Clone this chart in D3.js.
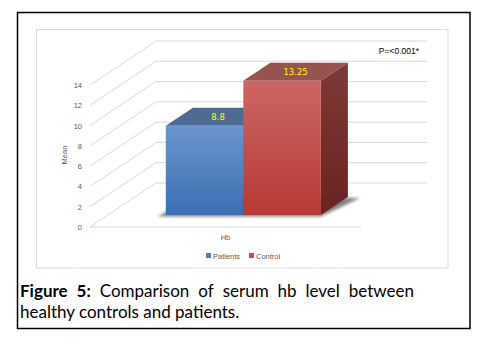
<!DOCTYPE html>
<html><head><meta charset="utf-8">
<script src="https://cdn.jsdelivr.net/npm/d3@7"></script>
<style>body{margin:0;background:#fff}svg{display:block}</style>
</head><body>
<script>
const categories = ["Hb"];
const seriesNames = ["Patients", "Control"];
const seriesValues = [8.8, 13.25];
const valueLabels = ["8.8", "13.25"];
const yTicks = [0, 2, 4, 6, 8, 10, 12, 14];
const pValueText = "P=<0.001*";
const yTitle = "Mean";
const captionBold = "Figure 5:";
const captionLine1 = ["Comparison", "of", "serum", "hb", "level", "between"];
const captionLine2 = "healthy controls and patients.";

const W = 486, H = 345;
const svg = d3.select("body").append("svg").attr("width", W).attr("height", H);
const defs = svg.append("defs");

// outer & inner frames
svg.append("rect").attr("x", 17.5).attr("y", 12.5).attr("width", 452.5).attr("height", 316)
  .attr("fill", "none").attr("stroke", "#000").attr("stroke-width", 1.5);
svg.append("rect").attr("x", 36.5).attr("y", 29.5).attr("width", 411.5).attr("height", 238.5)
  .attr("fill", "#fff").attr("stroke", "#d9d9d9").attr("stroke-width", 1);

// 3D projection
const DX = 66, DY = -44;               // full depth offset
const fFront = 0.27, fBack = 0.68;     // bar depth fractions
const y = d3.scaleLinear().domain([0, 14]).range([227, 85]);
const x0 = d3.scaleBand().domain(categories).range([90, 361]).paddingInner(0).paddingOuter(0.374);
const x1 = d3.scaleBand().domain(seriesNames).range([0, x0.bandwidth()]).padding(0);
const P = (xf, v, f) => [xf + DX * f, y(v) + DY * f];

const grid = "#d9d9d9";
const g = svg.append("g");
// back wall gridlines
yTicks.forEach(t => {
  const a = P(90, t, 1), b = P(361, t, 1);
  g.append("line").attr("x1", a[0]).attr("y1", a[1]).attr("x2", b[0]).attr("y2", b[1])
    .attr("stroke", grid).attr("stroke-width", 1);
  const c = P(90, t, 0);
  g.append("line").attr("x1", c[0]).attr("y1", c[1]).attr("x2", a[0]).attr("y2", a[1])
    .attr("stroke", grid).attr("stroke-width", 1);
});
// floor front line
g.append("line").attr("x1", 90).attr("y1", y(0)).attr("x2", 361).attr("y2", y(0))
  .attr("stroke", grid).attr("stroke-width", 1);

// y tick labels
g.selectAll("text.yt").data(yTicks).join("text")
  .attr("x", 82).attr("y", d => y(d) + 3)
  .attr("text-anchor", "end").attr("font-family", "Liberation Sans, Arial, sans-serif")
  .attr("font-size", 7.5).attr("fill", "#595959").text(d => d);
svg.append("text").attr("transform", `translate(67,155) rotate(-90)`)
  .attr("text-anchor", "middle").attr("font-family", "Liberation Sans, Arial, sans-serif")
  .attr("font-size", 7.5).attr("fill", "#595959").text(yTitle);
svg.append("text").attr("x", x0("Hb") + x0.bandwidth() / 2).attr("y", 240)
  .attr("text-anchor", "middle").attr("font-family", "Liberation Sans, Arial, sans-serif")
  .attr("font-size", 7.5).attr("fill", "#595959").text(categories[0]);

// gradients
const palettes = [
  { front: ["#6c95ce", "#3b6eb3"], top: "#506b92", side: ["#2c4f82", "#254474"] },
  { front: ["#cb6764", "#b63935"], top: "#975350", side: ["#7d3a38", "#6c2222"] }
];
palettes.forEach((p, i) => {
  const lg = defs.append("linearGradient").attr("id", "fg" + i).attr("x1", 0).attr("y1", 0).attr("x2", 0).attr("y2", 1);
  lg.append("stop").attr("offset", 0).attr("stop-color", p.front[0]);
  lg.append("stop").attr("offset", 1).attr("stop-color", p.front[1]);
  const sg = defs.append("linearGradient").attr("id", "sg" + i).attr("x1", 0).attr("y1", 0).attr("x2", 0).attr("y2", 1);
  sg.append("stop").attr("offset", 0).attr("stop-color", p.side[0]);
  sg.append("stop").attr("offset", 1).attr("stop-color", p.side[1]);
});
const blur = defs.append("filter").attr("id", "blur").attr("x", "-20%").attr("y", "-50%").attr("width", "140%").attr("height", "200%");
blur.append("feGaussianBlur").attr("stdDeviation", 1.6);

// shadow under bars
const bx0 = x0("Hb"), bx1 = x0("Hb") + x0.bandwidth();
const s1 = P(bx0 - 8, 0, fFront), s2 = P(bx1, 0, fFront), s3 = P(bx1 + 10, 0, fBack), s4 = P(bx0, 0, fBack);
svg.append("polygon").attr("points", [[s1[0], s1[1] + 1.5], [s2[0], s2[1] + 1.5], [s3[0] + 2, s3[1] + 1], s4].map(d => d.join(",")).join(" "))
  .attr("fill", "#555").attr("opacity", 0.75).attr("filter", "url(#blur)");

const line = pts => pts.map(d => d.join(",")).join(" ");
const bars = svg.append("g");
seriesNames.forEach((s, i) => {
  const v = seriesValues[i];
  const xl = bx0 + x1(s), xr = xl + x1.bandwidth();
  const fl0 = P(xl, 0, fFront), fr0 = P(xr, 0, fFront), flv = P(xl, v, fFront), frv = P(xr, v, fFront);
  const bl = P(xl, v, fBack), br = P(xr, v, fBack), br0 = P(xr, 0, fBack);
  bars.append("polygon").attr("points", line([frv, br, br0, fr0])).attr("fill", `url(#sg${i})`);
  bars.append("polygon").attr("points", line([flv, bl, br, frv])).attr("fill", palettes[i].top);
  bars.append("polygon").attr("points", line([fl0, flv, frv, fr0])).attr("fill", `url(#fg${i})`);
  const cx = (flv[0] + br[0]) / 2, cy = (flv[1] + br[1]) / 2;
  bars.append("text").attr("x", cx).attr("y", cy + 3.5).attr("text-anchor", "middle")
    .attr("font-family", "DejaVu Sans, sans-serif").attr("font-size", 8.5)
    .attr("fill", "#ffff00").text(valueLabels[i]);
});

// p-value
svg.append("text").attr("x", 419).attr("y", 54).attr("text-anchor", "end")
  .attr("font-family", "Liberation Sans, Arial, sans-serif").attr("font-size", 8.5)
  .attr("fill", "#000").text(pValueText);

// legend
const leg = svg.append("g").attr("font-family", "Liberation Sans, Arial, sans-serif").attr("font-size", 7.5).attr("fill", "#595959");
const legX = [206, 249], legColors = ["#4a7ebf", "#c0504d"];
seriesNames.forEach((s, i) => {
  leg.append("rect").attr("x", legX[i]).attr("y", 253).attr("width", 5).attr("height", 5).attr("fill", legColors[i]);
  leg.append("text").attr("x", legX[i] + 7).attr("y", 258.5).text(s);
});

// caption
const capFont = "Lato, 'Open Sans', sans-serif";
const cap = svg.append("g").attr("font-family", capFont).attr("font-size", 17).attr("fill", "#000");
const words = [{ t: "Figure", b: true }, { t: "5:", b: true }].concat(captionLine1.map(t => ({ t, b: false })));
const nodes = words.map(w => cap.append("text").attr("y", 296.5).attr("font-weight", w.b ? "bold" : "normal").text(w.t));
const widths = nodes.map(n => n.node().getComputedTextLength());
const total = d3.sum(widths), left = 20, right = 414;
const gap = (right - left - total) / (words.length - 1);
let cxp = left;
nodes.forEach((n, i) => { n.attr("x", cxp); cxp += widths[i] + gap; });
cap.append("text").attr("x", 20).attr("y", 318).text(captionLine2);
</script>
</body></html>
